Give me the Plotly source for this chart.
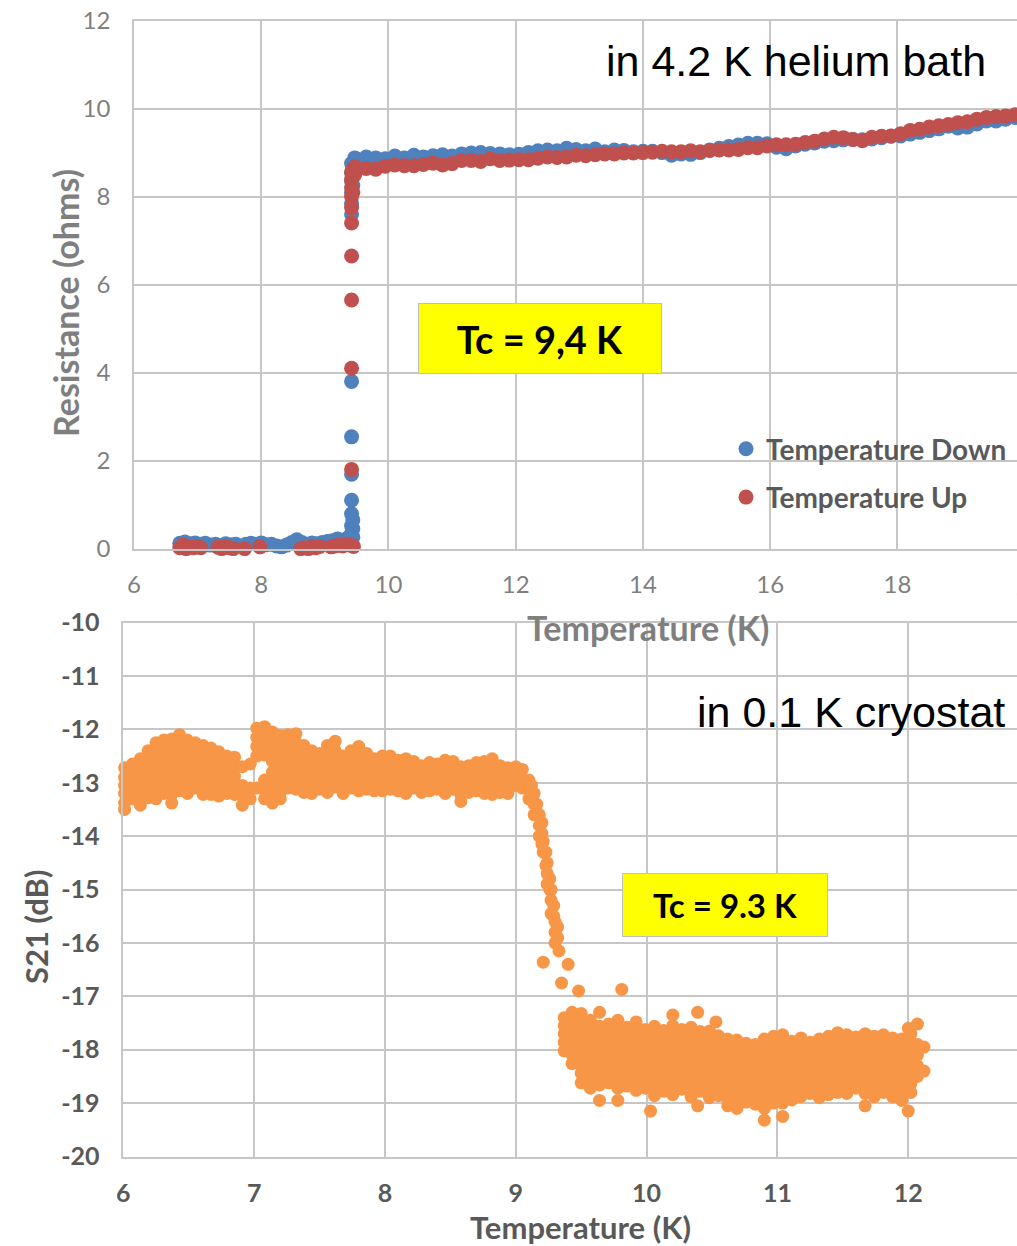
import plotly.graph_objects as go

W, H = 1017, 1246

# ---------------- Top chart data: Resistance vs Temperature ----------------
down_low_T = [6.72, 6.80, 6.88, 6.96, 7.04, 7.12, 7.20, 7.28, 7.36, 7.44, 7.52, 7.60, 7.68, 7.76,
              7.84, 7.92, 8.00, 8.08, 8.16, 8.24, 8.32, 8.40, 8.48, 8.56, 8.64, 8.72, 8.80, 8.88,
              8.96, 9.04, 9.12, 9.20, 9.28, 9.36, 9.44]
down_low_R = [0.12, 0.15, 0.11, 0.13, 0.10, 0.12, 0.08, 0.10, 0.07, 0.11, 0.09, 0.10, 0.06, 0.10,
              0.12, 0.10, 0.13, 0.09, 0.10, 0.06, 0.04, 0.08, 0.14, 0.20, 0.14, 0.10, 0.13, 0.11,
              0.14, 0.16, 0.18, 0.22, 0.19, 0.24, 0.26]
down_jump_T = [9.42, 9.42, 9.42, 9.42, 9.42, 9.42, 9.42, 9.42, 9.42, 9.42, 9.42, 9.42, 9.42,
               9.44, 9.44, 9.44, 9.44, 9.47]
down_jump_R = [0.34, 0.52, 0.79, 1.10, 1.69, 2.54, 3.80, 7.60, 7.85, 8.10, 8.35, 8.55, 8.75,
               0.45, 0.65, 8.25, 8.65, 8.88]

high_T = [9.50, 9.65, 9.80, 9.95, 10.10, 10.25, 10.40, 10.55, 10.70, 10.85, 11.00, 11.15, 11.30,
          11.45, 11.60, 11.75, 11.90, 12.05, 12.20, 12.35, 12.50, 12.65, 12.80, 12.95, 13.10,
          13.25, 13.40, 13.55, 13.70, 13.85, 14.00, 14.15, 14.30, 14.45, 14.60, 14.75, 14.90,
          15.05, 15.20, 15.35, 15.50, 15.65, 15.80, 15.95, 16.10, 16.25, 16.40, 16.55, 16.70,
          16.85, 17.00, 17.15, 17.30, 17.45, 17.60, 17.75, 17.90, 18.05, 18.20, 18.35, 18.50,
          18.65, 18.80, 18.95, 19.10, 19.25, 19.40, 19.55, 19.70, 19.85]
down_high_R = [8.85, 8.90, 8.88, 8.86, 8.92, 8.88, 8.94, 8.90, 8.93, 8.95, 8.92, 8.97, 8.99,
               9.00, 8.98, 8.97, 8.95, 8.96, 9.00, 9.04, 9.06, 9.04, 9.10, 9.07, 9.04,
               9.08, 9.02, 9.06, 9.05, 9.02, 9.03, 9.03, 9.00, 8.94, 8.97, 8.96, 9.00,
               9.06, 9.10, 9.14, 9.17, 9.21, 9.21, 9.20, 9.12, 9.09, 9.15, 9.19, 9.22,
               9.26, 9.27, 9.29, 9.30, 9.29, 9.31, 9.34, 9.37, 9.38, 9.42, 9.46, 9.50,
               9.54, 9.60, 9.56, 9.58, 9.65, 9.72, 9.72, 9.76, 9.80]

up_low_T = [6.72, 6.77, 6.82, 6.88, 6.94, 7.00, 7.05, 7.32, 7.38, 7.44, 7.50, 7.56, 7.74, 7.98,
            8.62, 8.68, 8.74, 8.80, 8.86, 8.92, 9.10, 9.16, 9.22, 9.28, 9.34, 9.40, 9.45]
up_low_R = [0.02, 0.08, 0.00, 0.04, 0.02, 0.05, 0.02, 0.03, 0.00, 0.04, 0.02, 0.00, 0.00, 0.04,
            0.00, 0.02, 0.00, 0.04, 0.02, 0.05, 0.04, 0.06, 0.08, 0.06, 0.10, 0.08, 0.05]
up_jump_T = [9.42, 9.42, 9.42, 9.42, 9.42, 9.42, 9.42, 9.42, 9.42, 9.42, 9.44, 9.44, 9.44,
             9.47, 9.47]
up_jump_R = [1.80, 4.10, 5.65, 6.65, 7.40, 7.75, 8.00, 8.20, 8.40, 8.55, 8.10, 8.45, 8.62,
             8.50, 8.68]
up_high_R = [8.60, 8.64, 8.62, 8.69, 8.72, 8.70, 8.70, 8.73, 8.76, 8.72, 8.75, 8.82, 8.82,
             8.80, 8.86, 8.82, 8.83, 8.84, 8.84, 8.87, 8.90, 8.89, 8.90, 8.94, 8.93,
             8.95, 8.97, 8.97, 8.99, 8.99, 9.00, 9.01, 9.03, 9.02, 9.02, 9.04, 9.02,
             9.05, 9.06, 9.06, 9.07, 9.11, 9.11, 9.15, 9.18, 9.18, 9.19, 9.23, 9.26,
             9.31, 9.35, 9.34, 9.30, 9.27, 9.35, 9.37, 9.38, 9.43, 9.50, 9.53, 9.58,
             9.61, 9.64, 9.68, 9.70, 9.76, 9.80, 9.82, 9.83, 9.86]

top_xticks = [6, 8, 10, 12, 14, 16, 18]
top_yticks = [0, 2, 4, 6, 8, 10, 12]

# ---------------- Bottom chart data: S21 vs Temperature ----------------
s21_col_T = [6.01, 6.07, 6.13, 6.19, 6.25, 6.31, 6.37, 6.43, 6.49, 6.55, 6.61, 6.67, 6.73, 6.79,
             6.85, 6.91, 6.97, 7.02, 7.08, 7.14, 7.20, 7.26, 7.32, 7.38, 7.44, 7.50, 7.56, 7.62,
             7.68, 7.74, 7.80, 7.86, 7.92, 7.98, 8.04, 8.10, 8.16, 8.22, 8.28, 8.34, 8.40, 8.46,
             8.52, 8.58, 8.64, 8.70, 8.76, 8.82, 8.88, 8.94, 9.00,
             9.05, 9.10, 9.14, 9.18, 9.21, 9.24, 9.27, 9.30, 9.33,
             9.12, 9.16, 9.20, 9.23, 9.26, 9.29, 9.32,
             9.21, 9.35, 9.40, 9.48, 9.81,
             9.37, 9.43, 9.50, 9.57, 9.64, 9.71, 9.78, 9.85, 9.92, 9.99, 10.03, 10.06, 10.13,
             10.20, 10.27, 10.34, 10.39, 10.41, 10.48, 10.53, 10.55, 10.62, 10.69, 10.76, 10.83,
             10.90, 10.97, 11.04, 11.11, 11.18, 11.25, 11.32, 11.39, 11.46, 11.53, 11.60, 11.67,
             11.74, 11.81, 11.88, 11.95, 12.00, 12.02, 12.07, 12.12]
s21_col_dB = [
    [-12.72, -12.90, -13.05, -13.20, -13.38, -13.50],
    [-12.65, -12.82, -13.00, -13.15, -13.30],
    [-12.55, -12.72, -12.90, -13.08, -13.25, -13.42],
    [-12.40, -12.60, -12.78, -12.95, -13.10, -13.28],
    [-12.25, -12.42, -12.60, -12.78, -12.95, -13.12, -13.30],
    [-12.20, -12.38, -12.55, -12.72, -12.90, -13.05, -13.20],
    [-12.18, -12.35, -12.52, -12.70, -12.88, -13.05, -13.22, -13.38],
    [-12.10, -12.28, -12.45, -12.62, -12.80, -12.98, -13.15],
    [-12.20, -12.38, -12.55, -12.72, -12.90, -13.08, -13.20],
    [-12.25, -12.42, -12.60, -12.78, -12.95, -13.10],
    [-12.30, -12.45, -12.62, -12.80, -12.98, -13.15, -13.22],
    [-12.35, -12.52, -12.70, -12.88, -13.05, -13.22],
    [-12.42, -12.58, -12.75, -12.92, -13.10, -13.25],
    [-12.50, -12.68, -12.85, -13.02, -13.20],
    [-12.52, -12.70, -12.88, -13.05, -13.22],
    [-12.70, -13.05, -13.25, -13.42],
    [-13.10, -13.30, -12.65],
    [-11.98, -12.15, -12.32, -12.50, -13.10],
    [-11.95, -12.12, -12.30, -12.48, -12.95, -13.12, -13.30],
    [-12.05, -12.22, -12.40, -12.60, -12.80, -12.98, -13.15, -13.38],
    [-12.12, -12.30, -12.48, -12.65, -12.82, -13.00, -13.18, -13.30],
    [-12.10, -12.28, -12.45, -12.62, -12.80, -12.98, -13.10],
    [-12.08, -12.25, -12.42, -12.60, -12.78, -12.95, -13.12],
    [-12.30, -12.48, -12.65, -12.82, -13.00, -13.18],
    [-12.40, -12.55, -12.72, -12.90, -13.05, -13.20],
    [-12.45, -12.62, -12.80, -12.95, -13.12],
    [-12.30, -12.48, -12.65, -12.82, -13.00, -13.18],
    [-12.22, -12.40, -12.58, -12.75, -12.92, -13.08],
    [-12.50, -12.68, -12.85, -13.02, -13.20],
    [-12.40, -12.58, -12.75, -12.92, -13.10],
    [-12.32, -12.50, -12.68, -12.85, -13.02, -13.15],
    [-12.45, -12.62, -12.80, -12.98, -13.12],
    [-12.55, -12.72, -12.88, -13.05, -13.15],
    [-12.50, -12.68, -12.85, -13.02, -13.15],
    [-12.50, -12.65, -12.82, -13.00, -13.12],
    [-12.58, -12.75, -12.92, -13.08, -13.15],
    [-12.55, -12.72, -12.90, -13.05, -13.20],
    [-12.60, -12.78, -12.95, -13.10],
    [-12.68, -12.85, -13.00, -13.18],
    [-12.62, -12.80, -12.98, -13.15],
    [-12.65, -12.82, -13.00, -13.12],
    [-12.58, -12.75, -12.92, -13.10, -13.20],
    [-12.60, -12.78, -12.95, -13.12],
    [-12.70, -12.88, -13.05, -13.22, -13.35],
    [-12.68, -12.85, -13.02, -13.18],
    [-12.62, -12.80, -12.98, -13.15],
    [-12.60, -12.78, -12.95, -13.12, -13.20],
    [-12.55, -12.72, -12.90, -13.08, -13.22],
    [-12.68, -12.85, -13.02, -13.18],
    [-12.72, -12.90, -13.05, -13.20],
    [-12.70, -12.88, -13.05],
    [-12.75, -12.92, -13.10],
    [-12.95, -13.12, -13.30],
    [-13.20, -13.40, -13.60],
    [-13.60, -13.80, -14.00],
    [-14.10, -14.30],
    [-14.50, -14.70, -14.90],
    [-15.00, -15.20, -15.45],
    [-15.60, -15.80, -16.00],
    [-16.15],
    [-13.05, -13.25],
    [-13.40, -13.55],
    [-13.75, -13.95, -14.15],
    [-14.30, -14.55],
    [-14.80, -15.00],
    [-15.30, -15.50],
    [-15.70, -15.90],
    [-16.36],
    [-16.75],
    [-16.40],
    [-16.90],
    [-16.87],
    [-17.40, -17.55, -17.70, -17.86, -18.02],
    [-17.30, -17.46, -17.62, -17.78, -17.94, -18.10, -18.26],
    [-17.32, -17.48, -17.64, -17.80, -17.96, -18.12, -18.28, -18.44, -18.62],
    [-17.45, -17.60, -17.76, -17.92, -18.08, -18.24, -18.40, -18.56, -18.72],
    [-17.30, -17.56, -17.72, -17.88, -18.04, -18.20, -18.36, -18.52, -18.66, -18.95],
    [-17.52, -17.68, -17.84, -18.00, -18.16, -18.32, -18.48, -18.62],
    [-17.45, -17.60, -17.76, -17.92, -18.08, -18.24, -18.40, -18.56, -18.72, -18.95],
    [-17.58, -17.74, -17.90, -18.06, -18.22, -18.38, -18.54, -18.68],
    [-17.48, -17.64, -17.80, -17.96, -18.12, -18.28, -18.44, -18.60, -18.76],
    [-17.62, -17.78, -17.94, -18.10, -18.26, -18.42, -18.58, -18.72],
    [-19.15],
    [-17.56, -17.72, -17.88, -18.04, -18.20, -18.36, -18.52, -18.68, -18.86],
    [-17.64, -17.80, -17.96, -18.12, -18.28, -18.44, -18.60, -18.78],
    [-17.35, -17.55, -17.72, -17.88, -18.04, -18.20, -18.36, -18.52, -18.68, -18.84],
    [-17.62, -17.78, -17.94, -18.10, -18.26, -18.42, -18.58, -18.74],
    [-17.58, -17.74, -17.90, -18.06, -18.22, -18.38, -18.54, -18.70, -18.88],
    [-17.30, -19.05],
    [-17.66, -17.82, -17.98, -18.14, -18.30, -18.46, -18.62, -18.78],
    [-17.65, -17.80, -17.96, -18.12, -18.28, -18.44, -18.60, -18.76, -18.90],
    [-17.48],
    [-17.74, -17.90, -18.06, -18.22, -18.38, -18.54, -18.70, -18.86],
    [-17.80, -17.96, -18.12, -18.28, -18.44, -18.60, -18.76, -18.92, -19.05],
    [-17.82, -17.98, -18.14, -18.30, -18.46, -18.62, -18.78, -18.92, -19.10],
    [-17.88, -18.04, -18.20, -18.36, -18.52, -18.68, -18.84, -18.98],
    [-17.90, -18.06, -18.22, -18.38, -18.54, -18.70, -18.86, -19.02],
    [-17.80, -17.96, -18.12, -18.28, -18.44, -18.60, -18.76, -18.92, -19.10, -19.32],
    [-17.75, -17.90, -18.06, -18.22, -18.38, -18.54, -18.70, -18.86, -19.00],
    [-17.72, -17.88, -18.04, -18.20, -18.36, -18.52, -18.68, -18.84, -19.00, -19.25],
    [-17.84, -18.00, -18.16, -18.32, -18.48, -18.64, -18.80, -18.94],
    [-17.78, -17.94, -18.10, -18.26, -18.42, -18.58, -18.74, -18.88],
    [-17.86, -18.02, -18.18, -18.34, -18.50, -18.66, -18.82],
    [-17.80, -17.96, -18.12, -18.28, -18.44, -18.60, -18.76, -18.90],
    [-17.75, -17.90, -18.06, -18.22, -18.38, -18.54, -18.70, -18.84],
    [-17.68, -17.84, -18.00, -18.16, -18.32, -18.48, -18.64, -18.80],
    [-17.72, -17.88, -18.04, -18.20, -18.36, -18.52, -18.68, -18.82],
    [-17.76, -17.92, -18.08, -18.24, -18.40, -18.56, -18.72],
    [-17.70, -17.86, -18.02, -18.18, -18.34, -18.50, -18.66, -18.82, -19.05],
    [-17.75, -17.90, -18.06, -18.22, -18.38, -18.54, -18.70, -18.88],
    [-17.72, -17.88, -18.04, -18.20, -18.36, -18.52, -18.68, -18.80],
    [-17.78, -17.94, -18.10, -18.26, -18.42, -18.58, -18.74, -18.88],
    [-17.80, -17.96, -18.12, -18.28, -18.44, -18.60, -18.76, -18.95],
    [-17.60, -19.15],
    [-17.70, -17.85, -18.00, -18.16, -18.32, -18.48, -18.64, -18.80],
    [-17.52, -17.90, -18.10, -18.30, -18.50],
    [-17.95, -18.40],
]

bot_xticks = [6, 7, 8, 9, 10, 11, 12]
bot_yticks = [-10, -11, -12, -13, -14, -15, -16, -17, -18, -19, -20]

# --------------------------------------------------------------------------
s21_T, s21_dB = [], []
for t, ys in zip(s21_col_T, s21_col_dB):
    for v in ys:
        s21_T.append(t)
        s21_dB.append(v)

BLUE = "#4F81BD"
RED = "#C0504D"
ORANGE = "#F79646"
GRID = "#C6C6C6"
CAL = "Lato, Carlito, sans-serif"
ARIAL = "Liberation Sans, Arial, sans-serif"

def fx(p):
    return p / W

def fy(p):
    return 1 - p / H

fig = go.Figure()
fig.add_trace(go.Scatter(
    x=down_low_T + down_jump_T + high_T, y=down_low_R + down_jump_R + down_high_R,
    mode="markers", name="Temperature Down", legendgroup="a",
    marker=dict(color=BLUE, size=15, line=dict(width=0)),
    xaxis="x", yaxis="y", cliponaxis=False))
fig.add_trace(go.Scatter(
    x=up_low_T + up_jump_T + high_T, y=up_low_R + up_jump_R + up_high_R,
    mode="markers", name="Temperature Up", legendgroup="b",
    marker=dict(color=RED, size=15, line=dict(width=0)),
    xaxis="x", yaxis="y", cliponaxis=False))
fig.add_trace(go.Scatter(
    x=s21_T, y=s21_dB, mode="markers", name="S21", showlegend=False,
    marker=dict(color=ORANGE, size=13, line=dict(width=0)),
    xaxis="x2", yaxis="y2", cliponaxis=False))

top_font = dict(family=CAL, size=24, color="#7F7F7F")
bot_font = dict(family=CAL, size=25, color="#595959", weight="bold")

fig.update_layout(
    width=W, height=H, autosize=False,
    margin=dict(l=0, r=0, t=0, b=0, autoexpand=False),
    paper_bgcolor="white", plot_bgcolor="white",
    showlegend=True,
    legend=dict(x=fx(726), y=fy(424), xanchor="left", yanchor="top",
                bgcolor="rgba(0,0,0,0)", traceorder="grouped", tracegroupgap=9,
                font=dict(family=CAL, size=28, color="#595959", weight="bold"),
                itemwidth=30),
    xaxis=dict(domain=[fx(134), 1], range=[6, 19.88], anchor="y",
               tickmode="array", tickvals=top_xticks, ticktext=[str(v) for v in top_xticks],
               showgrid=True, gridcolor=GRID, gridwidth=1.5, zeroline=False,
               showline=True, linecolor=GRID, linewidth=1.5, mirror=True,
               ticks="", ticklabelstandoff=14, tickfont=top_font),
    yaxis=dict(domain=[fy(548.6), fy(20.6)], range=[0, 12], anchor="x",
               tickmode="array", tickvals=top_yticks, ticktext=[str(v) for v in top_yticks],
               showgrid=True, gridcolor=GRID, gridwidth=1.5, zeroline=False,
               showline=True, linecolor=GRID, linewidth=1.5,
               ticks="", ticklabelstandoff=17, tickfont=top_font),
    xaxis2=dict(domain=[fx(123.3), 1], range=[6, 12.831], anchor="y2",
                tickmode="array", tickvals=bot_xticks, ticktext=[str(v) for v in bot_xticks],
                showgrid=True, gridcolor=GRID, gridwidth=1.5, zeroline=False,
                showline=True, linecolor=GRID, linewidth=1.5, mirror=True,
                ticks="", ticklabelstandoff=14, tickfont=bot_font),
    yaxis2=dict(domain=[fy(1156.5), fy(622.6)], range=[-20, -10], anchor="x2",
                tickmode="array", tickvals=bot_yticks, ticktext=[str(v) for v in bot_yticks],
                showgrid=True, gridcolor=GRID, gridwidth=1.5, zeroline=False,
                showline=True, linecolor=GRID, linewidth=1.5,
                ticks="", ticklabelstandoff=17, tickfont=bot_font),
)

ann = []
def add(text, x, y, font, **kw):
    d = dict(text=text, x=fx(x), y=fy(y), xref="paper", yref="paper",
             showarrow=False, font=font, xanchor="center", yanchor="middle")
    d.update(kw)
    ann.append(d)

title_font_top = dict(family=CAL, size=34, color="#7F7F7F", weight="bold")
title_font_bot = dict(family=CAL, size=31, color="#595959", weight="bold")
add("Resistance (ohms)", 65, 303, title_font_top, textangle=-90)
add("Temperature (K)", 648, 627, title_font_top)
add("S21 (dB)", 36, 927, title_font_bot, textangle=-90)
add("Temperature (K)", 580, 1227, title_font_bot)
add("20", 1030, 586, top_font)
add("in 4.2 K helium bath", 796, 61, dict(family=ARIAL, size=43, color="black"))
add("in 0.1 K cryostat", 851, 712, dict(family=ARIAL, size=43, color="black"))
add("Tc = 9,4 K", 540, 338.5, dict(family=CAL, size=38, color="black", weight="bold"),
    bgcolor="#FFFF00", bordercolor="#BFBFBF", borderwidth=1, borderpad=0,
    width=242, height=69)
add("Tc = 9.3 K", 725, 905, dict(family=CAL, size=33, color="black", weight="bold"),
    bgcolor="#FFFF00", bordercolor="#BFBFBF", borderwidth=1, borderpad=0,
    width=204, height=62)
fig.update_layout(annotations=ann)

fig.write_html("out.html")
